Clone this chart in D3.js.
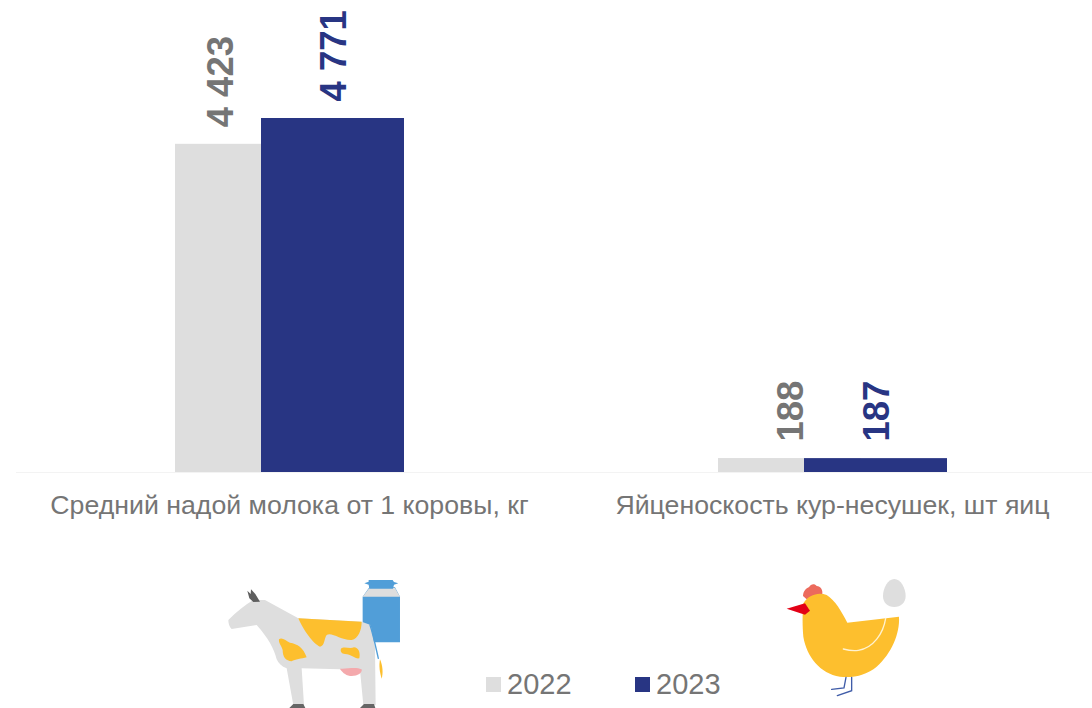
<!DOCTYPE html>
<html><head><meta charset="utf-8">
<script src="https://cdn.jsdelivr.net/npm/d3@7"></script>
<style>html,body{margin:0;padding:0;background:#fff;overflow:hidden}svg{display:block}text{font-family:"Liberation Sans",Arial,sans-serif}</style>
</head><body><svg id="c" width="1092" height="708"></svg>
<script>
const categories = ["Средний надой молока от 1 коровы, кг", "Яйценоскость кур-несушек, шт яиц"];
const years = ["2022", "2023"];
const values2022 = [4423, 188];
const values2023 = [4771, 187];
const labels2022 = ["4 423", "188"];
const labels2023 = ["4 771", "187"];
const yearColors = ["#dedede", "#283583"];
const labelColors = ["#757575", "#283583"];

const svg = d3.select("#c");
const baseY = 472, barW = 143, overlapStep = 86;
const x = d3.scaleBand().domain(categories).range([18, 1104]);
const y = d3.scaleLinear().domain([0, 4771]).range([baseY, 118]);
const xYear = d3.scaleOrdinal().domain(years).range([-overlapStep / 2, overlapStep / 2]);
const rows = years.flatMap((yr, s) => categories.map((c, i) => ({
  c, i, yr, s,
  v: (s ? values2023 : values2022)[i],
  label: (s ? labels2023 : labels2022)[i]
})));
const cx = d => x(d.c) + x.bandwidth() / 2 + xYear(d.yr);

// baseline
svg.append("line").attr("x1", 16).attr("x2", 1092).attr("y1", baseY + .5).attr("y2", baseY + .5).attr("stroke", "#f3f3f3");

// bars
svg.append("g").selectAll("rect").data(rows).join("rect")
  .attr("x", d => cx(d) - barW / 2).attr("width", barW)
  .attr("y", d => y(d.v)).attr("height", d => baseY - y(d.v))
  .attr("fill", d => yearColors[d.s]);

// value labels (the 4 423 label sits shifted left, away from the overlapping bar)
svg.append("g").selectAll("text").data(rows).join("text")
  .attr("transform", d => {
    const nudge = (d.s === 0 && d.i === 0) ? -27 : 0;
    return `translate(${cx(d) + nudge + 13.5},${y(d.v) - 16.5}) rotate(-90)`;
  })
  .attr("font-size", 36.5).attr("font-weight", 700)
  .attr("fill", d => labelColors[d.s]).text(d => d.label);

// category labels
svg.append("g").selectAll("text").data(categories).join("text")
  .attr("x", d => x(d) + x.bandwidth() / 2).attr("y", 514)
  .attr("text-anchor", "middle").attr("font-size", 26.7).attr("fill", "#757575").text(d => d);

// legend
const lg = svg.append("g").selectAll("g").data(years).join("g")
  .attr("transform", (d, i) => `translate(${486 + i * 149},677)`);
lg.append("rect").attr("width", 15).attr("height", 15).attr("fill", (d, i) => yearColors[i]);
lg.append("text").attr("x", 21).attr("y", 17).attr("font-size", 29).attr("fill", "#757575").text(d => d);

// icons
const defs = svg.append("defs");
defs.append("filter").attr("id", "soft").append("feGaussianBlur").attr("stdDeviation", 1.8);
const paint = (g, list) => list.forEach(([p, fill, stroke, sw]) => g.append("path").attr("d", p)
  .attr("fill", fill || "none").attr("stroke", stroke || "none").attr("stroke-width", sw || 0)
  .attr("stroke-linecap", "round"));

const cow = svg.append("g").attr("transform", "translate(210,570) scale(.3333)").attr("filter", "url(#soft)");
paint(cow, [
  ["M458 80L478 52L555 52L570 80L570 217L458 217Z", "#519ed8"],
  ["M478 54L555 54L570 80L458 80Z", "#dedede"],
  ["M476 30L548 30L552 36L565 40L552 44L549 56L478 56L476 44L463 40L476 35Z", "#519ed8"],
  ["M55 150C80 125 105 105 130 90L165 90L265 145L455 155L482 165L495 230L497 405L460 405L450 300L390 298L275 295L282 405L250 405L230 295C215 290 205 280 200 268C192 235 175 205 140 165L65 177C58 172 55 160 55 150Z", "#dedede"],
  ["M112 62L122 72L123 58L136 72L150 95L130 96L118 85Z", "#5f5f5f"],
  ["M238 414L250 402L280 402L286 414Z", "#666666"],
  ["M450 414L462 402L492 402L496 414Z", "#666666"],
  ["M265 145L455 155C455 180 445 205 425 210C395 212 365 185 350 195C342 205 345 228 330 230C310 222 280 180 265 145Z", "#fdbf2e"],
  ["M207 208C215 200 228 212 240 218C262 222 280 232 290 262C275 266 255 268 245 274C228 272 218 262 218 240C215 228 205 220 207 208Z", "#fdbf2e"],
  ["M393 236C402 228 420 238 432 232C445 232 452 248 448 265C435 268 425 252 405 252C395 250 390 245 393 236Z", "#fdbf2e"],
  ["M390 296C410 298 435 290 455 298C458 310 440 320 420 318C405 315 395 305 390 296Z", "#f4a9ac"],
  ["M480 165C490 195 497 230 505 265", null, "#519ed8", 4],
  ["M510 268C518 285 520 310 515 326C510 310 506 290 510 268Z", "#fdbf2e"]
]);

const hen = svg.append("g").attr("transform", "translate(770,570) scale(.3333)").attr("filter", "url(#soft)");
paint(hen, [
  ["M373 27C392 27 407 55 407 78C407 98 392 111 373 111C353 111 339 98 339 78C339 55 354 27 373 27Z", "#dedede"],
  ["M99 78C100 60 110 55 118 50C122 41 135 40 140 48C152 48 159 60 157 72L110 88Z", "#ec6a5c"],
  ["M100 100C115 75 145 65 170 75C195 90 215 125 232 158L387 140C390 190 365 250 320 290C290 315 250 325 210 320C150 310 110 260 100 200C97 170 97 130 100 100Z", "#fdbf2e"],
  ["M50 116L105 100L120 122L105 134Z", "#e30613"],
  ["M347 145C340 190 310 235 265 241C250 243 235 241 220 237", null, "#fff2d0", 4],
  ["M228 322L222 354L185 358", null, "#3f5ca8", 4],
  ["M245 322L245 362L202 377", null, "#3f5ca8", 4]
]);
</script></body></html>
